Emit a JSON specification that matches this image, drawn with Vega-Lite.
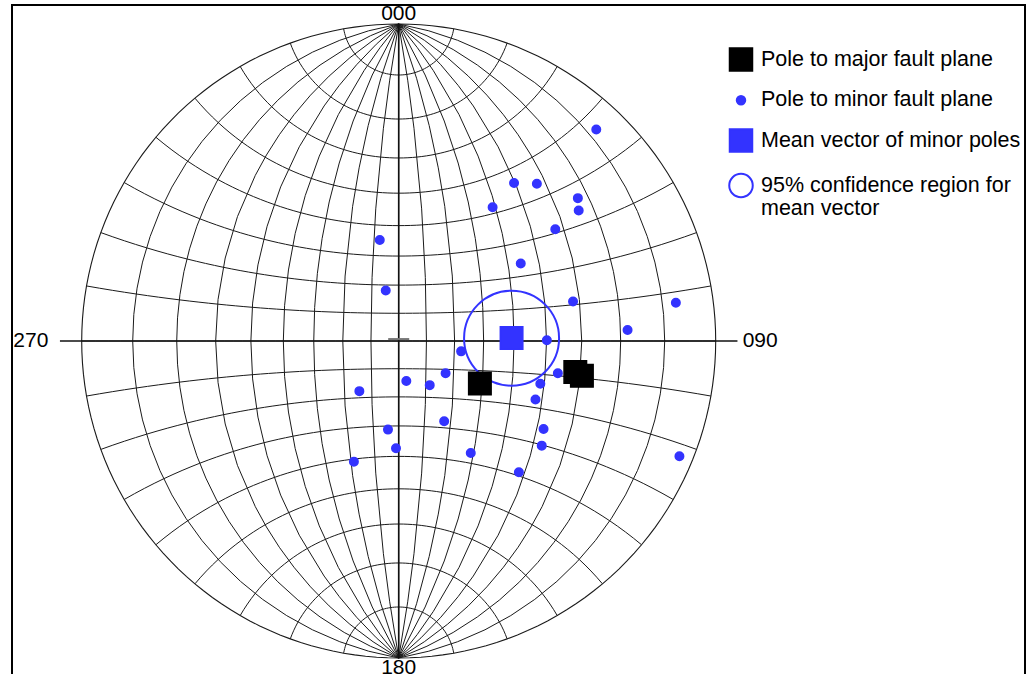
{
  "$schema": "https://vega.github.io/schema/vega-lite/v6.json",
  "width": 1013,
  "height": 672,
  "autosize": {"type": "none"},
  "padding": {"left": 12, "top": 5, "right": 8, "bottom": -3},
  "background": "white",
  "view": {"stroke": "black", "strokeWidth": 2, "fill": "white"},
  "config": {
    "view": {"stroke": "black", "strokeWidth": 2},
    "style": {"cell": {"stroke": "black", "strokeWidth": 2}},
    "font": "Liberation Sans"
  },
  "projection": {"type": "stereographic", "scale": 317, "translate": [386.7, 336], "clipAngle": 90},
  "datasets": {
    "poles": [
      {"type": "Pole to minor fault plane", "lon": 82.4, "lat": 46.7},
      {"type": "Pole to minor fault plane", "lon": 49.6, "lat": 46.2},
      {"type": "Pole to minor fault plane", "lon": 57.1, "lat": 43.7},
      {"type": "Pole to minor fault plane", "lon": 38.9, "lat": 41.8},
      {"type": "Pole to minor fault plane", "lon": 67.1, "lat": 36.3},
      {"type": "Pole to minor fault plane", "lon": 65.9, "lat": 33.5},
      {"type": "Pole to minor fault plane", "lon": 57.4, "lat": 31.0},
      {"type": "Pole to minor fault plane", "lon": 44.2, "lat": 23.9},
      {"type": "Pole to minor fault plane", "lon": 58.2, "lat": 10.9},
      {"type": "Pole to minor fault plane", "lon": -7.6, "lat": 35.2},
      {"type": "Pole to minor fault plane", "lon": -4.8, "lat": 18.1},
      {"type": "Pole to minor fault plane", "lon": 22.3, "lat": -3.6},
      {"type": "Pole to minor fault plane", "lon": 50.1, "lat": 0.2},
      {"type": "Pole to minor fault plane", "lon": 17.0, "lat": -11.4},
      {"type": "Pole to minor fault plane", "lon": 53.7, "lat": -9.3},
      {"type": "Pole to minor fault plane", "lon": 48.8, "lat": -12.8},
      {"type": "Pole to minor fault plane", "lon": 47.9, "lat": -17.6},
      {"type": "Pole to minor fault plane", "lon": -14.5, "lat": -17.7},
      {"type": "Pole to minor fault plane", "lon": 2.8, "lat": -14.4},
      {"type": "Pole to minor fault plane", "lon": 11.4, "lat": -15.7},
      {"type": "Pole to minor fault plane", "lon": -4.2, "lat": -31.2},
      {"type": "Pole to minor fault plane", "lon": 17.4, "lat": -27.8},
      {"type": "Pole to minor fault plane", "lon": -1.1, "lat": -37.4},
      {"type": "Pole to minor fault plane", "lon": 52.0, "lat": -25.6},
      {"type": "Pole to minor fault plane", "lon": 52.7, "lat": -30.2},
      {"type": "Pole to minor fault plane", "lon": 28.9, "lat": -36.9},
      {"type": "Pole to minor fault plane", "lon": -18.7, "lat": -40.8},
      {"type": "Pole to minor fault plane", "lon": 47.9, "lat": -39.0},
      {"type": "Pole to minor fault plane", "lon": 82.8, "lat": 7.8},
      {"type": "Pole to minor fault plane", "lon": 71.7, "lat": 2.6},
      {"type": "Pole to minor fault plane", "lon": 87.3, "lat": -22.3},
      {"type": "Mean vector of minor poles", "lon": 39.2, "lat": 1.0},
      {"type": "Pole to major fault plane", "lon": 29.2, "lat": -14.3},
      {"type": "Pole to major fault plane", "lon": 58.6, "lat": -8.5},
      {"type": "Pole to major fault plane", "lon": 60.5, "lat": -9.4}
    ],
    "confidence": [
      {"type": "95% confidence region for mean vector", "lon": 39.2, "lat": 0.9}
    ],
    "axes": [
      {"lon": -93.8, "lat": 0, "lon2": 93.8, "lat2": 0},
      {"lon": 0, "lat": 90, "lon2": 0, "lat2": -90}
    ],
    "centre": [
      {"lon": -3.8, "lat": 0.7, "lon2": 3.8, "lat2": 0.7}
    ],
    "labels": [
      {"label": "000", "lon": 180, "lat": 88.3},
      {"label": "180", "lon": 180, "lat": -88.3},
      {"label": "270", "lon": -98.5, "lat": 0},
      {"label": "090", "lon": 97.5, "lat": 0}
    ]
  },
  "layer": [
    {
      "data": {"graticule": {"step": [10, 10], "extent": [[-180, -90], [180, 90]]}},
      "mark": {"type": "geoshape", "filled": false, "fill": null, "stroke": "#1a1a1a", "strokeWidth": 1}
    },
    {
      "data": {"sphere": true},
      "mark": {"type": "geoshape", "filled": false, "fill": null, "stroke": "#1a1a1a", "strokeWidth": 1.1}
    },
    {
      "data": {"name": "axes"},
      "mark": {"type": "rule", "color": "#111111", "strokeWidth": 1.6},
      "encoding": {
        "longitude": {"field": "lon", "type": "quantitative"},
        "latitude": {"field": "lat", "type": "quantitative"},
        "longitude2": {"field": "lon2"},
        "latitude2": {"field": "lat2"}
      }
    },
    {
      "data": {"name": "centre"},
      "mark": {"type": "rule", "color": "#777777", "strokeWidth": 2},
      "encoding": {
        "longitude": {"field": "lon", "type": "quantitative"},
        "latitude": {"field": "lat", "type": "quantitative"},
        "longitude2": {"field": "lon2"},
        "latitude2": {"field": "lat2"}
      }
    },
    {
      "data": {"name": "labels"},
      "mark": {"type": "text", "font": "Liberation Sans", "fontSize": 21, "color": "black", "align": "center", "baseline": "middle"},
      "encoding": {
        "longitude": {"field": "lon", "type": "quantitative"},
        "latitude": {"field": "lat", "type": "quantitative"},
        "text": {"field": "label", "type": "nominal"}
      }
    },
    {
      "data": {"name": "confidence"},
      "mark": {"type": "point", "shape": "circle", "filled": false, "stroke": "#3333ff", "strokeWidth": 2, "size": 9025, "opacity": 1},
      "encoding": {
        "longitude": {"field": "lon", "type": "quantitative"},
        "latitude": {"field": "lat", "type": "quantitative"}
      }
    },
    {
      "data": {"name": "poles"},
      "mark": {"type": "point", "filled": true, "strokeWidth": 1.5, "opacity": 1},
      "encoding": {
        "longitude": {"field": "lon", "type": "quantitative"},
        "latitude": {"field": "lat", "type": "quantitative"},
        "shape": {
          "field": "type", "type": "nominal",
          "scale": {"domain": ["Pole to major fault plane", "Pole to minor fault plane", "Mean vector of minor poles", "95% confidence region for mean vector"], "range": ["square", "circle", "square", "circle"]},
          "legend": {"title": null, "orient": "none", "legendX": 716, "legendY": 42, "padding": 0, "labelFont": "Liberation Sans", "labelFontSize": 21.5, "labelColor": "black", "labelLimit": 400, "labelOffset": 7, "rowPadding": 13.5, "symbolStrokeWidth": 2, "symbolOpacity": 1, "labelExpr": "datum.label == '95% confidence region for mean vector' ? ['95% confidence region for', 'mean vector'] : datum.label"}
        },
        "fill": {
          "field": "type", "type": "nominal",
          "scale": {"domain": ["Pole to major fault plane", "Pole to minor fault plane", "Mean vector of minor poles", "95% confidence region for mean vector"], "range": ["#000000", "#3333ff", "#3333ff", "transparent"]},
          "legend": {"title": null, "orient": "none", "legendX": 716, "legendY": 42, "padding": 0, "labelFont": "Liberation Sans", "labelFontSize": 21.5, "labelColor": "black", "labelLimit": 400, "labelOffset": 7, "rowPadding": 13.5, "symbolStrokeWidth": 2, "symbolOpacity": 1, "labelExpr": "datum.label == '95% confidence region for mean vector' ? ['95% confidence region for', 'mean vector'] : datum.label"}
        },
        "stroke": {
          "field": "type", "type": "nominal",
          "scale": {"domain": ["Pole to major fault plane", "Pole to minor fault plane", "Mean vector of minor poles", "95% confidence region for mean vector"], "range": ["#000000", "#3333ff", "#3333ff", "#3333ff"]},
          "legend": {"title": null, "orient": "none", "legendX": 716, "legendY": 42, "padding": 0, "labelFont": "Liberation Sans", "labelFontSize": 21.5, "labelColor": "black", "labelLimit": 400, "labelOffset": 7, "rowPadding": 13.5, "symbolStrokeWidth": 2, "symbolOpacity": 1, "labelExpr": "datum.label == '95% confidence region for mean vector' ? ['95% confidence region for', 'mean vector'] : datum.label"}
        },
        "size": {
          "field": "type", "type": "nominal",
          "scale": {"type": "ordinal", "domain": ["Pole to major fault plane", "Pole to minor fault plane", "Mean vector of minor poles", "95% confidence region for mean vector"], "range": [506, 72, 506, 552]},
          "legend": {"title": null, "orient": "none", "legendX": 716, "legendY": 42, "padding": 0, "labelFont": "Liberation Sans", "labelFontSize": 21.5, "labelColor": "black", "labelLimit": 400, "labelOffset": 7, "rowPadding": 13.5, "symbolStrokeWidth": 2, "symbolOpacity": 1, "labelExpr": "datum.label == '95% confidence region for mean vector' ? ['95% confidence region for', 'mean vector'] : datum.label"}
        }
      }
    }
  ]
}
